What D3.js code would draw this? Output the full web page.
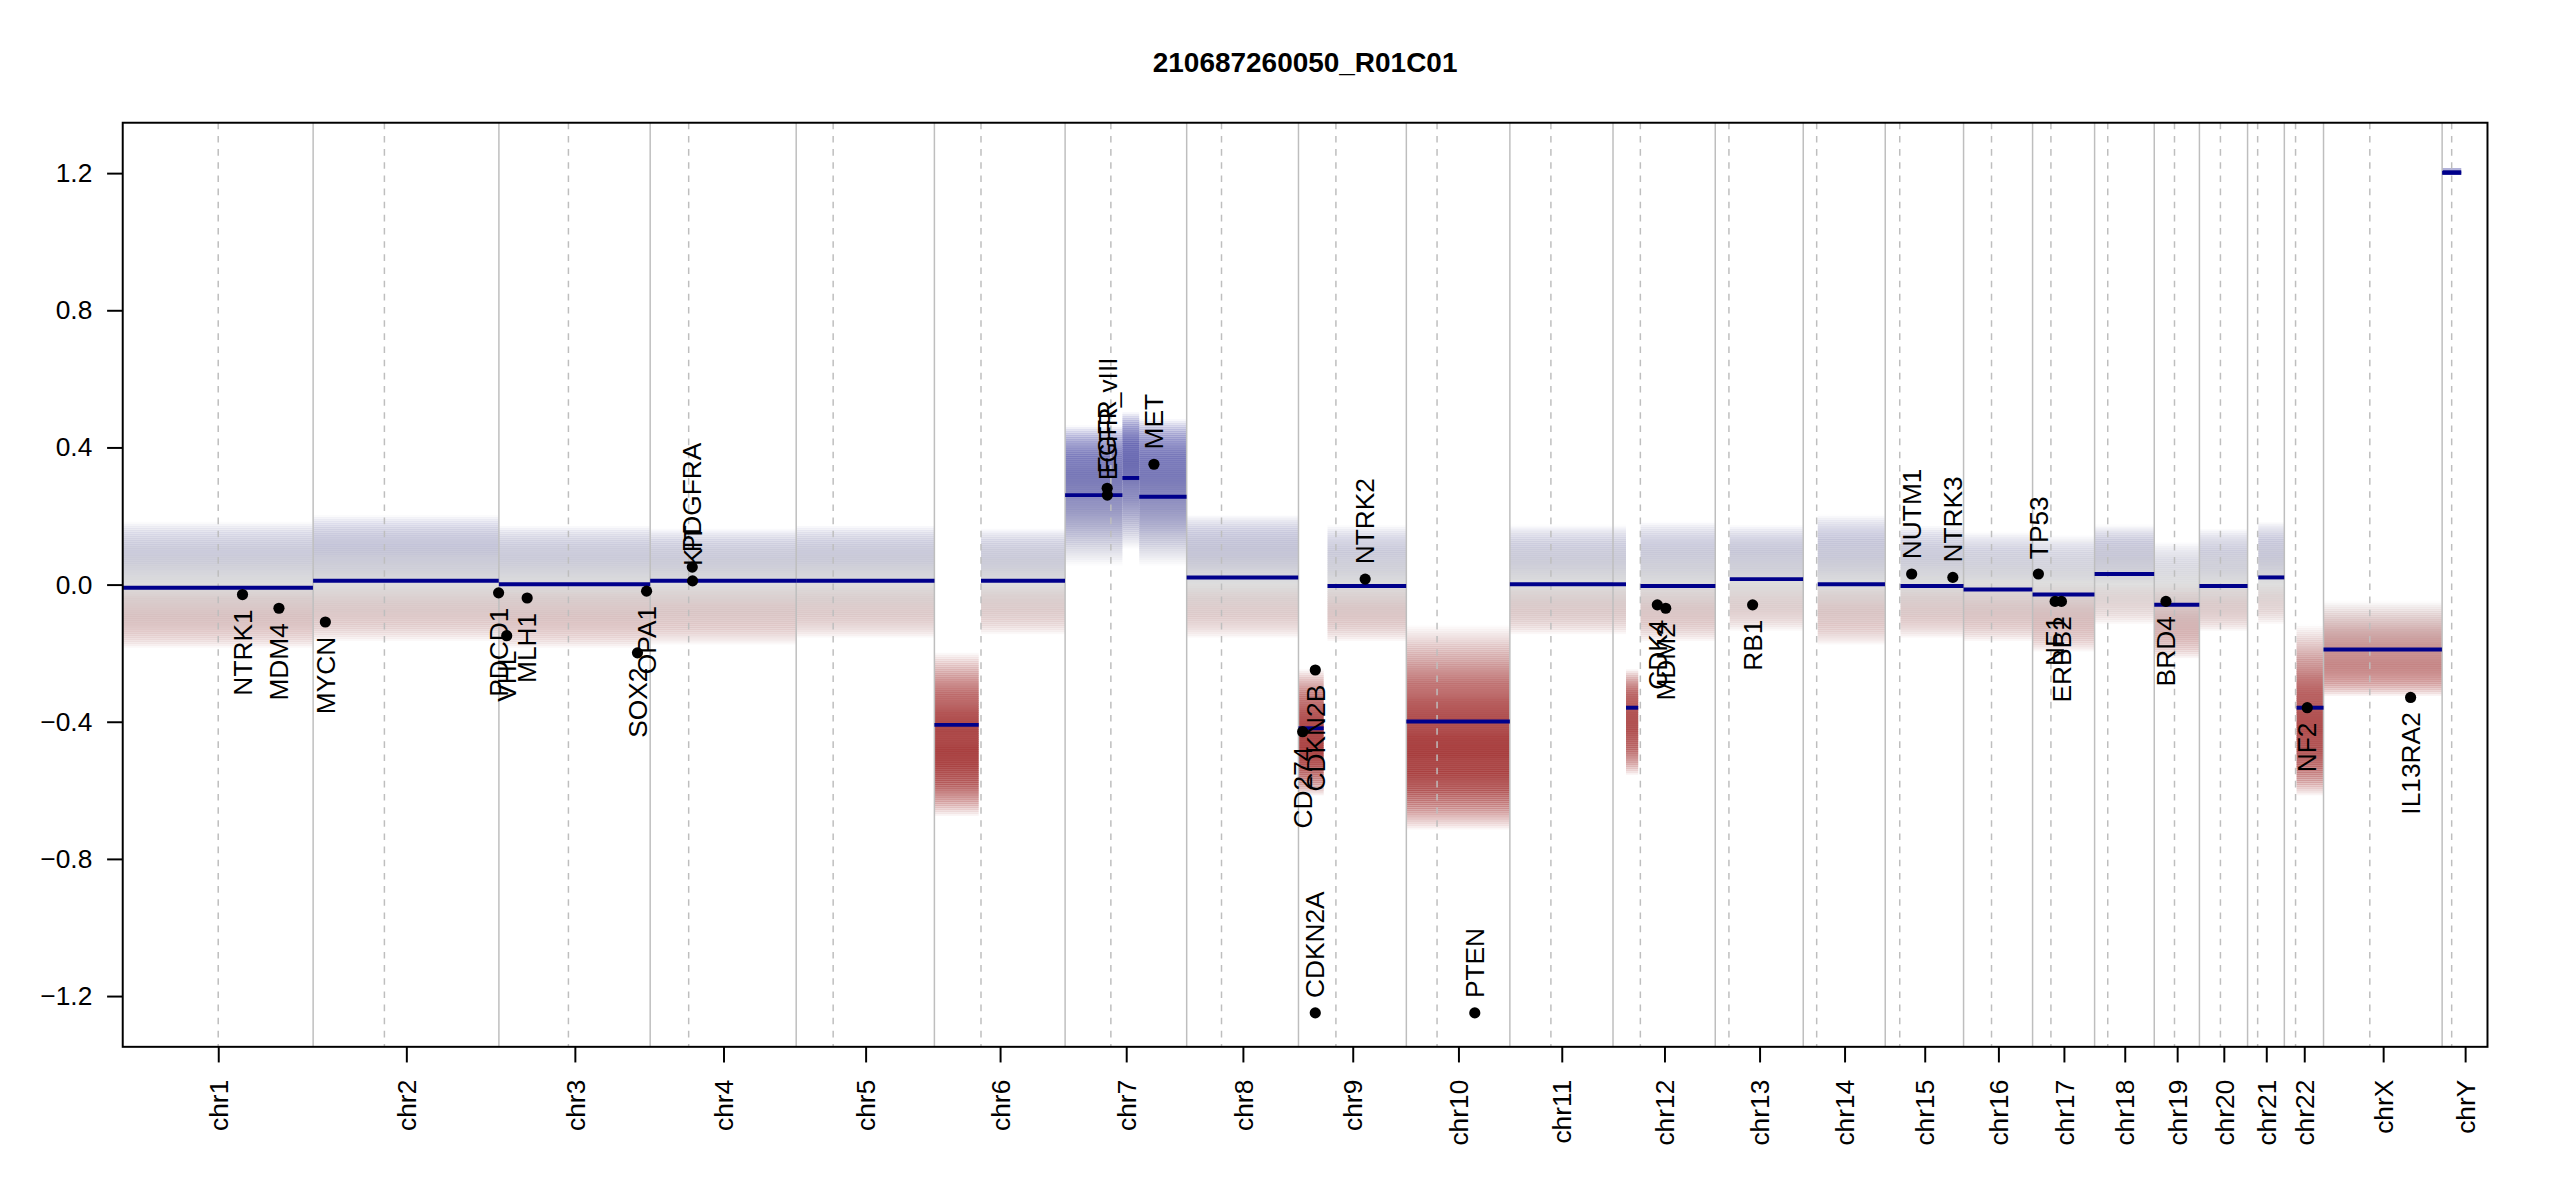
<!DOCTYPE html>
<html>
<head>
<meta charset="utf-8">
<script src="https://cdn.jsdelivr.net/npm/d3@7"></script>
<style>
  body { margin: 0; background: #fff; }
  text { font-family: "Liberation Sans", Arial, sans-serif; }
</style>
</head>
<body>
<svg id="chart" width="2550" height="1200"></svg>
<script>
// chromosome names, lengths and centromeres (hg19, Mb)
var chroms = ["chr1","chr2","chr3","chr4","chr5","chr6","chr7","chr8","chr9","chr10","chr11","chr12",
  "chr13","chr14","chr15","chr16","chr17","chr18","chr19","chr20","chr21","chr22","chrX","chrY"];
var chromLen = [249.25,243.2,198.02,191.15,180.92,171.12,159.14,146.36,141.21,135.53,135.01,133.85,
  115.17,107.35,102.53,90.35,81.2,78.08,59.13,63.03,48.13,51.3,155.27,59.37];
var centro = [125,93.3,91,50.4,48.4,61,59.9,45.6,49,40.2,53.7,35.8,17.9,17.6,19,36.6,24,17.2,26.5,27.5,13.2,14.7,60.6,12.5];

// segments: chrom, start, end, mean, cloud low, cloud high
var segChr   = ["chr1","chr2","chr3","chr4","chr5","chr6","chr6","chr7","chr7","chr7","chr8","chr9","chr9",
  "chr10","chr11","chr12","chr12","chr12","chr13","chr14","chr15","chr16","chr17","chr18","chr19","chr20","chr21","chr22","chrX","chrY"];
var segStart = [0,0,0,0,0,0,61,0,75,97,0,0,38,0,0,0,17,36,19,19,20,0,0,0,0,0,14,16,0,0];
var segEnd   = [249,243,198,191,181,58,171,75,97,159,146,33,141,135.5,135,17,33,134,115,107,102.5,90,81,78,59,63,48,51.3,155,25];
var segMean  = [-0.01,0.01,0.0,0.01,0.01,-0.41,0.01,0.26,0.31,0.255,0.02,-0.42,-0.005,-0.40,0.0,0.0,-0.36,-0.005,0.015,0.0,-0.005,-0.015,-0.03,0.03,-0.06,-0.005,0.02,-0.36,-0.19,1.2];
var segLo    = [-0.19,-0.17,-0.19,-0.18,-0.16,-0.68,-0.15,0.05,0.1,0.05,-0.16,-0.62,-0.17,-0.72,-0.15,-0.15,-0.56,-0.17,-0.14,-0.18,-0.16,-0.17,-0.2,-0.12,-0.22,-0.14,-0.12,-0.62,-0.33,1.19];
var segHi    = [0.18,0.2,0.17,0.16,0.17,-0.2,0.16,0.46,0.5,0.48,0.2,-0.25,0.17,-0.12,0.17,0.17,-0.25,0.18,0.17,0.2,0.17,0.15,0.14,0.17,0.12,0.16,0.18,-0.12,-0.05,1.21];

// annotated genes
var geneName = ["NTRK1","MDM4","MYCN","PDCD1","VHL","MLH1","SOX2","OPA1","PDGFRA","KIT","EGFR","EGFR_vIII","MET",
  "CD274","CDKN2A","CDKN2B","NTRK2","PTEN","CDK4","MDM2","RB1","NUTM1","NTRK3","TP53","NF1","ERBB2","BRD4","NF2","IL13RA2"];
var geneChr  = ["chr1","chr1","chr2","chr2","chr3","chr3","chr3","chr3","chr4","chr4","chr7","chr7","chr7",
  "chr9","chr9","chr9","chr9","chr10","chr12","chr12","chr13","chr15","chr15","chr17","chr17","chr17","chr19","chr22","chrX"];
var genePos  = [156.8,204.5,16,242.8,10.2,37,181.4,193.3,55.1,55.5,55.1,55.3,116.3,
  5.5,21.97,22.0,87.3,89.6,58,69,48.9,34.6,88.5,7.6,29.5,37.8,15.3,30,114];
var geneVal  = [-0.03,-0.07,-0.11,-0.025,-0.15,-0.04,-0.2,-0.02,0.05,0.01,0.28,0.26,0.35,
  -0.43,-1.25,-0.25,0.015,-1.25,-0.06,-0.07,-0.06,0.03,0.02,0.03,-0.05,-0.05,-0.05,-0.36,-0.33];

var yTicks = [-1.2,-0.8,-0.4,0.0,0.4,0.8,1.2];

var svg = d3.select("#chart").attr("viewBox", "0 0 1550 729.4");
var mLeft = 74.6, mRight = 1512, mTop = 74.6, mBottom = 636.3;

var offset = {};
var cum = 0;
chroms.forEach(function(c, i) { offset[c] = cum; cum += chromLen[i]; });

var x = d3.scaleLinear().domain([0, cum]).range([mLeft, mRight]);
var y = d3.scaleLinear().domain([-1.349, 1.346]).range([mBottom, mTop]);
var col = d3.scaleLinear()
  .domain([-0.6, -0.3, 0, 0.3, 0.5])
  .range(["#951515", "#b86060", "#dcdcdc", "#7474b4", "#2e2e9a"])
  .clamp(true);

function gx(c, p) { return x(offset[c] + p); }

// probe cloud drawn as strips per segment
var cloud = svg.append("g");
segChr.forEach(function(c, i) {
  var lo = segLo[i], hi = segHi[i], m = segMean[i];
  var step = 0.006;
  for (var v = lo; v < hi; v += step) {
    var d = v < m ? (m - v) / (m - lo) : (v - m) / (hi - m);
    var op = Math.max(0, 1 - Math.pow(d, 2.2)) * 0.95;
    cloud.append("rect")
      .attr("x", gx(c, segStart[i]))
      .attr("width", gx(c, segEnd[i]) - gx(c, segStart[i]))
      .attr("y", y(v + step))
      .attr("height", y(v) - y(v + step) + 0.3)
      .attr("fill", col(v))
      .attr("opacity", op);
  }
});

// chromosome boundaries and centromeres
svg.append("g").selectAll("line").data(chroms.slice(1)).enter().append("line")
  .attr("x1", function(c) { return gx(c, 0); }).attr("x2", function(c) { return gx(c, 0); })
  .attr("y1", mTop).attr("y2", mBottom)
  .attr("stroke", "#bebebe").attr("stroke-width", 0.9);
svg.append("g").selectAll("line").data(chroms).enter().append("line")
  .attr("x1", function(c, i) { return gx(c, centro[i]); }).attr("x2", function(c, i) { return gx(c, centro[i]); })
  .attr("y1", mTop).attr("y2", mBottom)
  .attr("stroke", "#bebebe").attr("stroke-width", 0.9).attr("stroke-dasharray", "4,4");

// segment means
svg.append("g").selectAll("line").data(segChr).enter().append("line")
  .attr("x1", function(c, i) { return gx(c, segStart[i]); })
  .attr("x2", function(c, i) { return gx(c, segEnd[i]); })
  .attr("y1", function(c, i) { return y(segMean[i]); })
  .attr("y2", function(c, i) { return y(segMean[i]); })
  .attr("stroke", "#00008b").attr("stroke-width", 2.4);

// genes
var genes = svg.append("g");
geneName.forEach(function(n, i) {
  var gxp = gx(geneChr[i], genePos[i]), gyp = y(geneVal[i]);
  genes.append("circle").attr("cx", gxp).attr("cy", gyp).attr("r", 3.4).attr("fill", "#000");
  var above = geneVal[i] > 0 || geneVal[i] < -0.8;
  genes.append("text")
    .attr("transform", "translate(" + gxp + "," + (gyp + (above ? -9 : 9)) + ") rotate(-90)")
    .attr("text-anchor", above ? "start" : "end")
    .attr("dy", "0.35em")
    .attr("font-size", 16)
    .text(n);
});

// frame
svg.append("rect").attr("x", mLeft).attr("y", mTop).attr("width", mRight - mLeft).attr("height", mBottom - mTop)
  .attr("fill", "none").attr("stroke", "#000").attr("stroke-width", 1.2);

// y axis
var yAxis = svg.append("g").attr("transform", "translate(" + mLeft + ",0)")
  .call(d3.axisLeft(y).tickValues(yTicks).tickSize(9.5).tickPadding(9).tickFormat(d3.format(".1f")));
yAxis.select(".domain").remove();
yAxis.selectAll("line").attr("stroke-width", 1.2);
yAxis.selectAll("text").attr("font-size", 16).attr("font-family", "Liberation Sans, Arial, sans-serif");

// x axis
var mids = chroms.map(function(c, i) { return offset[c] + chromLen[i] / 2; });
var xAxis = svg.append("g").attr("transform", "translate(0," + mBottom + ")")
  .call(d3.axisBottom(x).tickValues(mids).tickSize(9.5).tickFormat(function(d, i) { return chroms[i]; }));
xAxis.select(".domain").remove();
xAxis.selectAll("line").attr("stroke-width", 1.2);
xAxis.selectAll("text").attr("font-size", 16).attr("font-family", "Liberation Sans, Arial, sans-serif")
  .attr("text-anchor", "end").attr("dy", "0.35em")
  .attr("transform", "translate(0,20) rotate(-90)").attr("x", 0).attr("y", 0);

// title
svg.append("text").attr("x", (mLeft + mRight) / 2).attr("y", 44).attr("text-anchor", "middle")
  .attr("font-size", 17).attr("font-weight", "bold").text("210687260050_R01C01");
</script>
</body>
</html>
